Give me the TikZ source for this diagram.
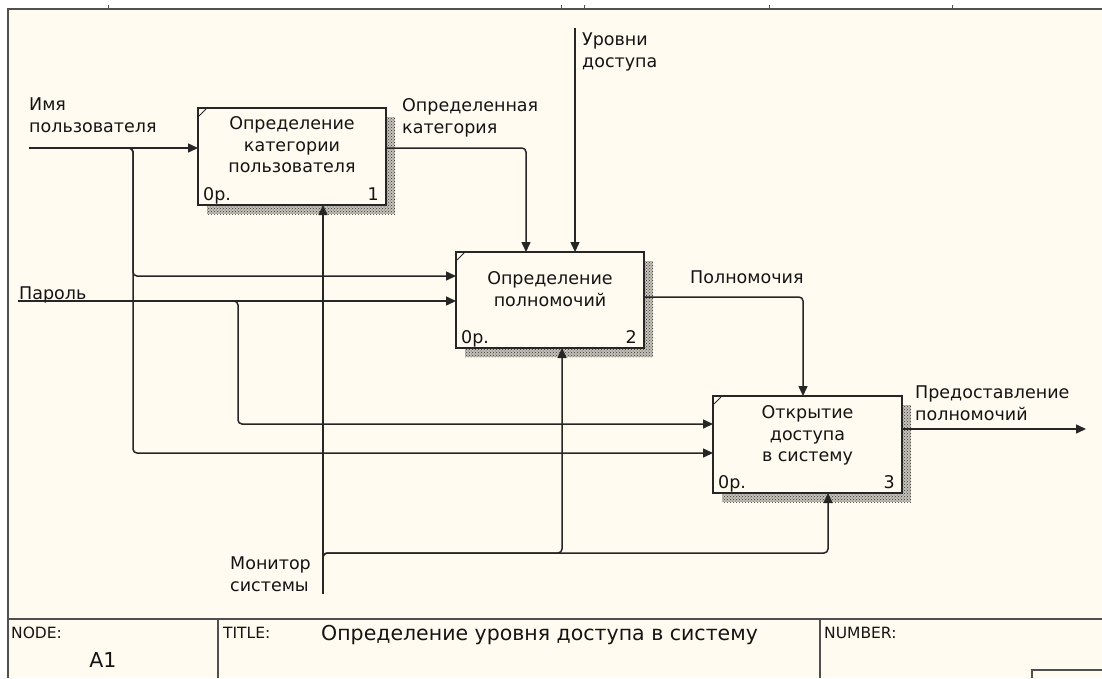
\documentclass[tikz,border=0pt]{standalone}
\usepackage{fontspec}
\setmainfont{DejaVu Sans}
\usetikzlibrary{arrows.meta,patterns,calc,shadows}
\definecolor{bg}{HTML}{FFFBF0}
\definecolor{ln}{HTML}{262626}
\definecolor{fr}{HTML}{505050}
\definecolor{tx}{HTML}{141414}
\definecolor{shd}{HTML}{C4C1B8}
\newcommand\lblfont{\fontsize{17.5}{21.5}\selectfont}
\newcommand\ttlfont{\fontsize{20.5}{24}\selectfont}
\newcommand\smfont{\fontsize{15.5}{18}\selectfont}
\tikzset{
  arr/.style={draw=ln, line width=1.5pt, -{Triangle[length=10pt,width=9pt]}},
  rc/.style={rounded corners=4pt},
  framel/.style={draw=fr, line width=1.7pt},
  box/.style={draw=ln, line width=1.5pt, fill=bg, inner sep=0pt, outer sep=0pt, anchor=north west,
    drop shadow={shadow xshift=9pt, shadow yshift=-9pt, opacity=1, fill=shd, preaction={}, pattern=crosshatch dots, pattern color=black!85}},
  lab/.style={font=\lblfont, text=tx, inner sep=0pt, align=left, anchor=north west},
  boxtxt/.style={font=\lblfont, text=tx, inner sep=0pt, align=center, anchor=north},
  cost/.style={font=\lblfont, text=tx, inner sep=0pt, anchor=base west},
  num/.style={font=\lblfont, text=tx, inner sep=0pt, anchor=base east},
  small/.style={font=\smfont, text=tx, inner sep=0pt, anchor=base west},
  corner/.style={draw=ln, line width=1pt},
  shbox/.style={fill=shd}
}
\begin{document}
\begin{tikzpicture}[x=1pt,y=-1pt]
\useasboundingbox (0,0) rectangle (1102,678);
\fill[white] (0,0) rectangle (1102,678);
\fill[bg] (8,9) rectangle (1102,678);
% frame
\draw[framel] (8,678) -- (8,9) -- (1102,9);
\foreach \t in {108,561,584,769,952} \draw[draw=fr, line width=1pt] (\t,9) -- (\t,5);
\draw[framel] (8,619) -- (1102,619);
\draw[framel] (218,619) -- (218,678);
\draw[framel] (820,619) -- (820,678);
\draw[framel] (1102,670) -- (1032,670) -- (1032,678);
\node[small] (nodel) at (11,638.5) {NODE:};
\node[font=\ttlfont, text=tx, inner sep=0pt, anchor=base] (a1) at (103,667) {A1};
\node[small] (titlel) at (223,638.5) {TITLE:};
\node[font=\ttlfont, text=tx, inner sep=0pt, anchor=base west] (title) at (321,640) {Определение уровня доступа в систему};
\node[small] (numberl) at (824,638.5) {NUMBER:};

% shadows (under boxes)
\fill[shbox] (207,117) rectangle (395,214);
\fill[shbox] (465,261) rectangle (653,357);
\fill[shbox] (722,405) rectangle (911,502);
\fill[pattern=crosshatch dots, pattern color=black!80] (207,117) rectangle (395,214);
\fill[pattern=crosshatch dots, pattern color=black!80] (465,261) rectangle (653,357);
\fill[pattern=crosshatch dots, pattern color=black!80] (722,405) rectangle (911,502);

% boxes
\tikzset{box/.style={draw=ln, line width=1.5pt, fill=bg, inner sep=0pt, outer sep=0pt, anchor=north west}}
\node[box, minimum width=188pt, minimum height=97pt] (b1) at (198,108) {};
\node[box, minimum width=188pt, minimum height=96pt] (b2) at (456,252) {};
\node[box, minimum width=189pt, minimum height=97pt] (b3) at (713,396) {};
\foreach \b in {b1,b2,b3} {
  \draw[corner] ($(\b.north west)+(1,8)$) -- ($(\b.north west)+(8,1)$);
  \node[cost] at ($(\b.south west)+(5,-4.5)$) {0р.};
}
\node[num] at ($(b1.south east)+(-7,-4.5)$) {1};
\node[num] at ($(b2.south east)+(-7,-4.5)$) {2};
\node[num] at ($(b3.south east)+(-7,-4.5)$) {3};
\node[boxtxt] (t1) at (292,114.3) {\strut Определение\\категории\\пользователя};
\node[boxtxt] (t2) at (550,269.3) {\strut Определение\\полномочий};
\node[boxtxt] (t3) at (807.5,403.3) {\strut Открытие\\доступа\\в систему};

% labels
\node[lab] (limya) at (29,95.3) {\strut Имя\\пользователя};
\node[lab] (lparol) at (19,284.3) {\strut Пароль};
\node[lab] (lkat) at (402,96.3) {\strut Определенная\\категория};
\node[lab] (lurov) at (582,30.3) {\strut Уровни\\доступа};
\node[lab] (lpoln) at (690,268.3) {\strut Полномочия};
\node[lab] (lpred) at (915,383.3) {\strut Предоставление\\полномочий};
\node[lab] (lmon) at (230,554.3) {\strut Монитор\\системы};

% coordinates
\coordinate (imya) at (29,148);
\coordinate (parol) at (18,301);
\coordinate (uroven) at (575,28);
\coordinate (monitor) at (323,594);
\coordinate (predost) at (1086,429);
\coordinate (j1) at (133,148);
\coordinate (j2) at (238,301);
\coordinate (j3) at (323,553);
\coordinate (b1i) at ($(b1.north west)+(0,40)$);
\coordinate (b1o) at ($(b1.north east)+(0,40)$);
\coordinate (b1m) at ($(b1.south west)+(125,0)$);
\coordinate (b2i1) at ($(b2.north west)+(0,24)$);
\coordinate (b2i2) at ($(b2.north west)+(0,49)$);
\coordinate (b2c1) at ($(b2.north west)+(70,0)$);
\coordinate (b2c2) at ($(b2.north west)+(119,0)$);
\coordinate (b2o) at ($(b2.north east)+(0,45)$);
\coordinate (b2m) at ($(b2.south west)+(106,0)$);
\coordinate (b3i1) at ($(b3.north west)+(0,28)$);
\coordinate (b3i2) at ($(b3.north west)+(0,57)$);
\coordinate (b3c) at ($(b3.north west)+(90,0)$);
\coordinate (b3o) at ($(b3.north east)+(0,33)$);
\coordinate (b3m) at ($(b3.south west)+(115,0)$);

% connectors
\draw[arr] (imya) -- (b1i);
\draw[arr, rc] ($(j1)+(-8,0)$) -- (j1) |- (b2i1);
\draw[arr, rc] ($(j1)+(-8,0)$) -- (j1) |- (b3i2);
\draw[arr] (parol) -- (b2i2);
\draw[arr, rc] ($(j2)+(-8,0)$) -- (j2) |- (b3i1);
\draw[arr, rc] (b1o) -| (b2c1);
\draw[arr] (uroven) -- (b2c2);
\draw[arr, rc] (b2o) -| (b3c);
\draw[arr] (b3o) -- (predost);
\draw[arr] (monitor) -- (b1m);
\draw[arr, rc] ($(j3)+(0,8)$) -- (j3) -| (b2m);
\draw[arr, rc] ($(j3)+(0,8)$) -- (j3) -| (b3m);
\end{tikzpicture}
\end{document}
